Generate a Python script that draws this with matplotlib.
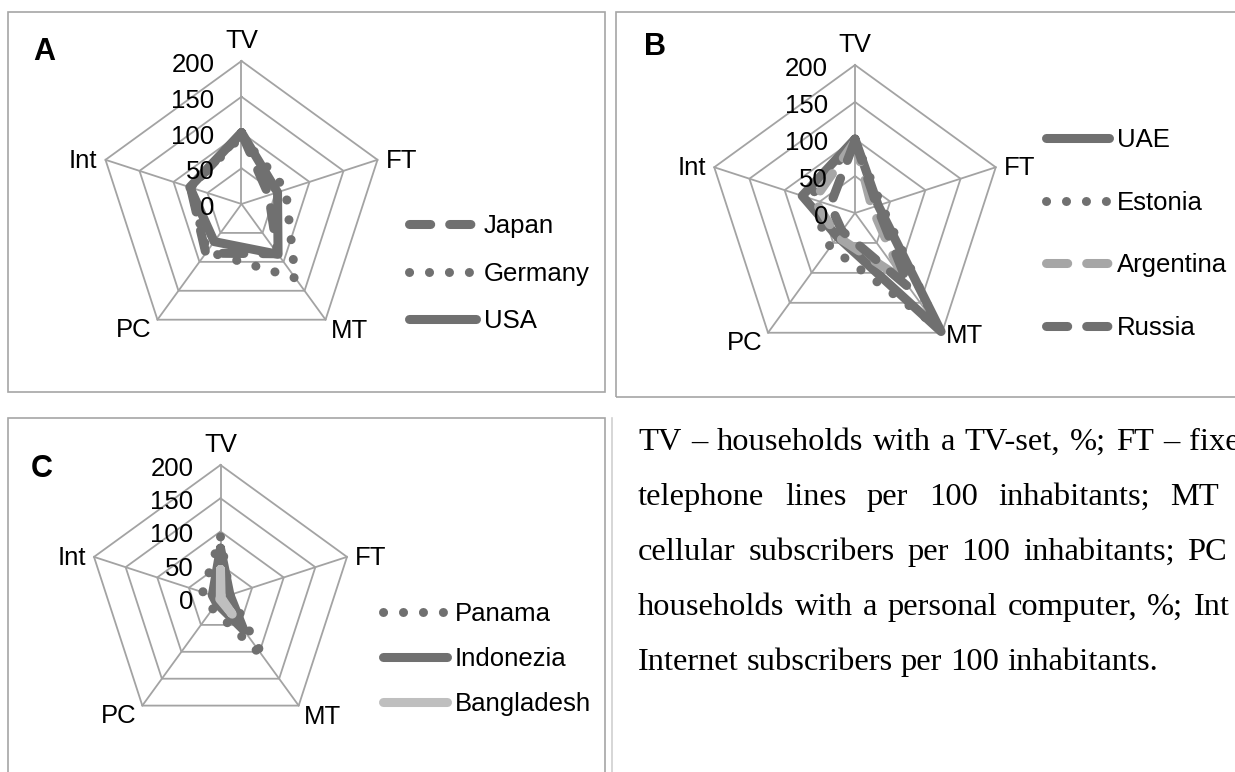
import numpy as np
import matplotlib.pyplot as plt
from matplotlib.patches import Rectangle
from matplotlib.lines import Line2D

W, H = 1235, 772
plt.rcParams['font.family'] = ['Liberation Sans', 'DejaVu Sans']

categories = ['TV', 'FT', 'MT', 'PC', 'Int']
ring_values = [0, 50, 100, 150, 200]

# panel A
a_names = ['Japan', 'Germany', 'USA']
a_japan = [99, 40, 86, 85, 75]
a_germany = [95, 65, 128, 82, 75]
a_usa = [100, 53, 87, 65, 76]

# panel B
b_names = ['UAE', 'Estonia', 'Argentina', 'Russia']
b_uae = [100, 33, 198, 40, 75]
b_estonia = [98, 37, 190, 57, 65]
b_argentina = [97, 24, 112, 40, 58]
b_russia = [98, 31, 125, 30, 35]

# panel C
c_names = ['Panama', 'Indonezia', 'Bangladesh']
c_panama = [92, 15, 110, 20, 28]
c_indonezia = [75, 15, 60, 10, 13]
c_bangladesh = [43, 1, 30, 2, 0.3]

note_lines = [
    'TV – households with a TV-set, %; FT – fixed',
    'telephone lines per 100 inhabitants; MT –',
    'cellular subscribers per 100 inhabitants; PC –',
    'households with a personal computer, %; Int –',
    'Internet subscribers per 100 inhabitants.',
]

DARK = '#707070'
GRID = '#a3a3a3'
BOX = '#a6a6a6'
LW = 6.5
SOLID = '-'
DASHED = (0, (2.35, 2.1))
DOTTED = (0, (0.01, 2.2))

fig = plt.figure(figsize=(W / 100, H / 100), dpi=100)


def fx(x):
    return x / W


def fy(y):
    return 1 - y / H


def pt(px):
    return px * 0.72


def radar(cx, cy, R, letter, letter_pos, names, series, styles, colors,
          leg, mt_off=(5, -18)):
    ax = fig.add_axes([fx(cx - R), fy(cy + R), 2 * R / W, 2 * R / H],
                      projection='polar')
    ax.set_theta_zero_location('N')
    ax.set_theta_direction(-1)
    ax.set_ylim(0, 200)
    ax.set_xticks([])
    ax.set_yticks([])
    ax.grid(False)
    ax.spines['polar'].set_visible(False)
    ax.patch.set_alpha(0)

    angles = np.deg2rad(np.arange(len(categories)) * 360 / len(categories))
    closed = np.append(angles, angles[0])

    # pentagon web
    for r in ring_values[1:]:
        ax.plot(closed, [r] * len(closed), color=GRID, lw=1.3, clip_on=False)
    for a in angles:
        ax.plot([a, a], [0, 200], color=GRID, lw=1.3, clip_on=False)

    # axis value labels left of the TV spoke
    for r in ring_values:
        ax.annotate(str(r), xy=(0, r), xytext=(pt(-27), pt(-11)),
                    textcoords='offset points', ha='right', va='baseline',
                    fontsize=18.5)

    offsets = {'TV': (0, 13, 'center'), 'FT': (8, -8, 'left'),
               'MT': (mt_off[0], mt_off[1], 'left'), 'PC': (-6, -17, 'right'),
               'Int': (-8, -8, 'right')}
    for a, c in zip(angles, categories):
        dx, dy, ha = offsets[c]
        ax.annotate(c, xy=(a, 200), xytext=(pt(dx), pt(dy)),
                    textcoords='offset points', ha=ha, va='baseline',
                    fontsize=18.5)

    handles = []
    for vals, st, col, name in zip(series, styles, colors, names):
        line, = ax.plot(closed, list(vals) + [vals[0]], color=col, lw=LW,
                        linestyle=st, dash_capstyle='round',
                        solid_capstyle='round', solid_joinstyle='round',
                        dash_joinstyle='round', clip_on=False, label=name)
        handles.append(line)

    ax.legend(handles=handles, loc='center left',
              bbox_to_anchor=(fx(leg['x']), fy(leg['y'])),
              bbox_transform=fig.transFigure, frameon=False, borderpad=0,
              borderaxespad=0, handlelength=leg['hl'], handletextpad=0.3,
              labelspacing=leg['ls'], fontsize=18.5)

    fig.text(fx(letter_pos[0]), fy(letter_pos[1]), letter, fontsize=22,
             fontweight='bold', ha='left', va='baseline')
    return ax


# panel frames
fig.add_artist(Rectangle((fx(8), fy(392)), (605 - 8) / W, (392 - 12) / H,
                         transform=fig.transFigure, fill=False, ec=BOX, lw=1.2))
fig.add_artist(Rectangle((fx(616), fy(397)), (1245 - 616) / W, (397 - 12) / H,
                         transform=fig.transFigure, fill=False, ec=BOX, lw=1.2))
fig.add_artist(Rectangle((fx(8), fy(780)), (605 - 8) / W, (780 - 418) / H,
                         transform=fig.transFigure, fill=False, ec=BOX, lw=1.2))
fig.add_artist(Line2D([fx(612), fx(612)], [fy(418), fy(772)],
                      transform=fig.transFigure, color='#d0d0d0', lw=1.2))

radar(241.5, 204, 143, 'A', (33, 60), a_names,
      [a_japan, a_germany, a_usa], [DASHED, DOTTED, SOLID],
      [DARK, DARK, DARK], dict(x=409, y=273.5, hl=2.6, ls=0.9))

radar(855, 213, 148, 'B', (644, 55), b_names,
      [b_uae, b_estonia, b_argentina, b_russia],
      [SOLID, DOTTED, DASHED, DASHED],
      [DARK, DARK, '#a6a6a6', DARK], dict(x=1046, y=234, hl=2.45, ls=1.5),
      mt_off=(4, -10))

radar(220.5, 598, 133, 'C', (31, 477), c_names,
      [c_panama, c_indonezia, c_bangladesh], [DOTTED, SOLID, SOLID],
      [DARK, DARK, '#bfbfbf'], dict(x=383, y=659, hl=2.5, ls=0.82))

# justified note text
renderer = fig.canvas.get_renderer()
x0, x1 = 638, 1256
for i, line in enumerate(note_lines):
    y = 450 + 55 * i
    words = line.split(' ')
    texts = [fig.text(0, fy(y), w, fontsize=23.4, family='Liberation Serif',
                      ha='left', va='baseline') for w in words]
    widths = [t.get_window_extent(renderer).width for t in texts]
    if i < len(note_lines) - 1:
        gap = (x1 - x0 - sum(widths)) / (len(words) - 1)
    else:
        gap = 8
    x = x0
    for t, w in zip(texts, widths):
        t.set_x(fx(x))
        x += w + gap

fig.savefig('out.png', dpi=100)
